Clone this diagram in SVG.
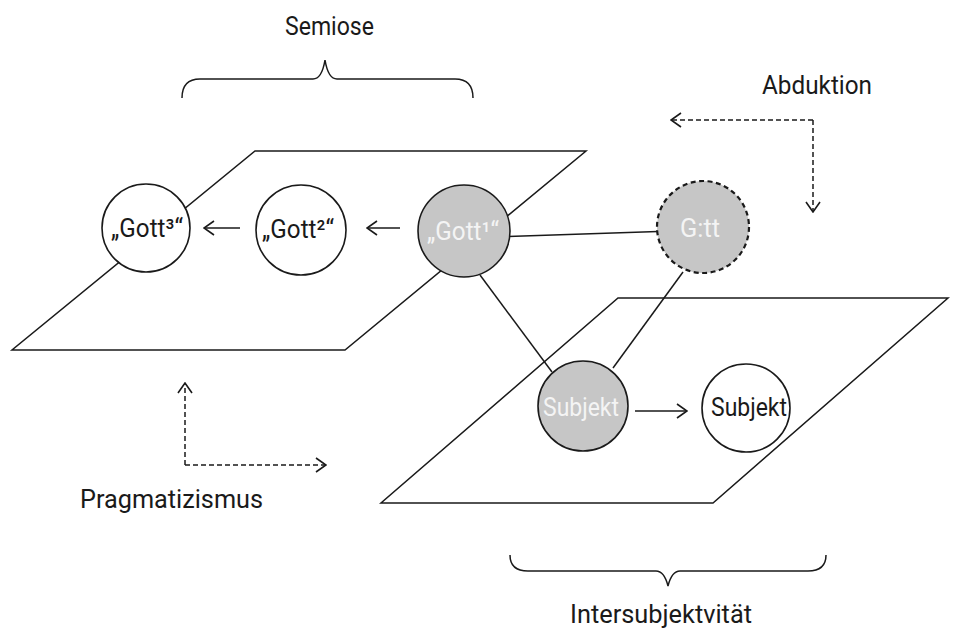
<svg xmlns="http://www.w3.org/2000/svg" width="963" height="634" viewBox="0 0 963 634">
<defs>
<style>
.plane{fill:none;stroke:#1a1a1a;stroke-width:1.5}
.ln{fill:none;stroke:#1a1a1a;stroke-width:1.5}
.dash{fill:none;stroke:#1a1a1a;stroke-width:1.5;stroke-dasharray:5 3}
.w{fill:#ffffff;stroke:#1a1a1a;stroke-width:1.6}
.g{fill:#c6c6c6;stroke:#1a1a1a;stroke-width:1.6}
.gd{fill:#c6c6c6;stroke:#1a1a1a;stroke-width:2.2;stroke-dasharray:5 3.5}
.t{font-family:Roboto,"Liberation Sans",sans-serif;font-size:26px;fill:#1a1a1a}
.tw{font-family:Roboto,"Liberation Sans",sans-serif;font-size:26px;fill:#f4f4f4}
.c{text-anchor:middle}
</style>
<marker id="ah" viewBox="0 0 12 16" refX="11" refY="8" markerWidth="12" markerHeight="16" markerUnits="userSpaceOnUse" orient="auto">
<path d="M1,1 L11,8 L1,15" fill="none" stroke="#1a1a1a" stroke-width="1.6"/>
</marker>
</defs>
<rect width="963" height="634" fill="#ffffff"/>

<g id="planes">
<polygon class="plane" points="255,151 586,151 345,350 12,350"/>
<polygon class="plane" points="618,298 948,298 713,503 381,503"/>
</g>

<g id="braces">
<path class="ln" d="M182,98 C182,86 187,79 200,79 L313,79 C319,79 323,72 325,60 C327,72 331,79 337,79 L455,79 C468,79 473,86 473,98"/>
<path class="ln" d="M510,555 C510,565 515,571 528,571 L656,571 C662,571 666,578 668,586 C670,578 674,571 680,571 L808,571 C821,571 826,565 826,555"/>
</g>

<g id="connectors">
<line class="ln" x1="464" y1="238" x2="703" y2="230"/>
<line class="ln" x1="480" y1="275" x2="552" y2="372"/>
<line class="ln" x1="683" y1="272" x2="613" y2="368"/>
<line class="ln" x1="400" y1="228" x2="367" y2="228" marker-end="url(#ah)"/>
<line class="ln" x1="240" y1="228" x2="204" y2="228" marker-end="url(#ah)"/>
<line class="ln" x1="635" y1="411" x2="687" y2="411" marker-end="url(#ah)"/>
<path class="dash" d="M813,120 L671,120" marker-end="url(#ah)"/>
<path class="dash" d="M813,120 L813,212" marker-end="url(#ah)"/>
<path class="dash" d="M185,465 L185,383" marker-end="url(#ah)"/>
<path class="dash" d="M185,465 L326,465" marker-end="url(#ah)"/>
</g>

<g id="gott3">
<circle class="w" cx="146" cy="228" r="44"/>
<text class="t c" x="147" y="237" textLength="72" lengthAdjust="spacingAndGlyphs">„Gott³“</text>
</g>
<g id="gott2">
<circle class="w" cx="301" cy="230" r="45"/>
<text class="t c" x="298" y="238" textLength="72" lengthAdjust="spacingAndGlyphs">„Gott²“</text>
</g>
<g id="gott1">
<circle class="g" cx="464" cy="231" r="46"/>
<text class="tw c" x="463" y="240" textLength="72" lengthAdjust="spacingAndGlyphs">„Gott¹“</text>
</g>
<g id="gtt">
<circle class="gd" cx="703" cy="227" r="46"/>
<text class="tw c" x="700" y="237" textLength="40" lengthAdjust="spacingAndGlyphs">G:tt</text>
</g>
<g id="subjekt1">
<circle class="g" cx="583" cy="406" r="45"/>
<text class="tw c" x="581" y="416" textLength="76" lengthAdjust="spacingAndGlyphs">Subjekt</text>
</g>
<g id="subjekt2">
<circle class="w" cx="746" cy="408" r="44"/>
<text class="t c" x="749" y="416" textLength="76" lengthAdjust="spacingAndGlyphs">Subjekt</text>
</g>

<g id="labels">
<text class="t c" x="329.5" y="35" textLength="89" lengthAdjust="spacingAndGlyphs">Semiose</text>
<text class="t" x="762" y="94" textLength="110" lengthAdjust="spacingAndGlyphs">Abduktion</text>
<text class="t" x="80" y="508" textLength="183" lengthAdjust="spacingAndGlyphs">Pragmatizismus</text>
<text class="t" x="570" y="623" textLength="182" lengthAdjust="spacingAndGlyphs">Intersubjektvität</text>
</g>
</svg>
